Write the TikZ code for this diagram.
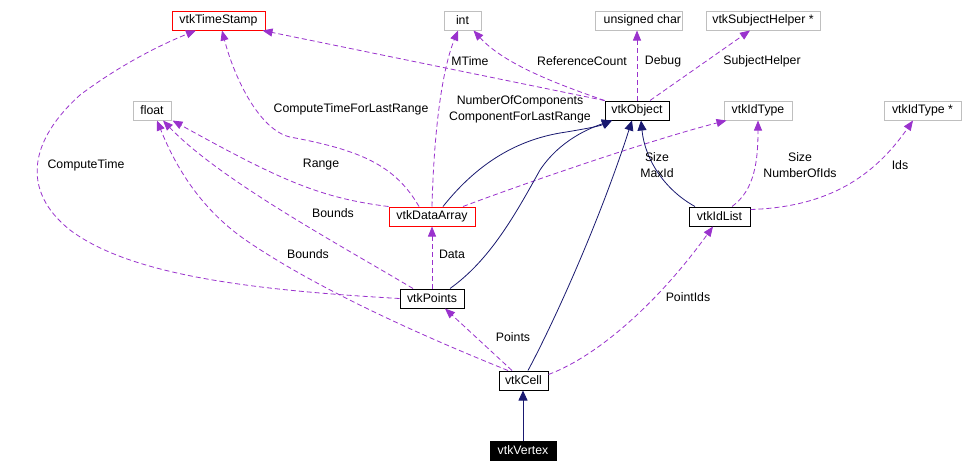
\documentclass[tikz,border=0pt]{standalone}
\usepackage{fontspec}
\setmainfont{Liberation Sans}
\usetikzlibrary{arrows.meta,calc}
\definecolor{depc}{HTML}{9A32CD}
\definecolor{inhc}{HTML}{191970}
\definecolor{grayb}{HTML}{BFBFBF}
\begin{document}
\begin{tikzpicture}[x=1pt,y=-1pt,
  box/.style={draw, rectangle, inner sep=0pt, minimum height=19pt, font=\fontsize{12.3}{14}\selectfont, line width=1pt},
  cls/.style={box, draw=black},
  ext/.style={box, draw=grayb},
  redb/.style={box, draw=red},
  lbl/.style={font=\fontsize{12.3}{16}\selectfont, inner sep=0pt, align=center},
  dep/.style={draw=depc, dash pattern=on 5pt off 3pt, line width=0.8pt, -{Triangle[length=10pt,width=8pt]}},
  inh/.style={draw=inhc, line width=0.8pt, -{Triangle[length=10pt,width=9pt]}}]
\fill[white] (0,0) rectangle (969,472);
\useasboundingbox (0,0) rectangle (969,472);

% nodes
\node[redb, minimum width=93pt] (ts) at (218.5,20.5) {vtkTimeStamp};
\node[ext, minimum width=37pt] (int) at (462.5,20.5) {int};
\node[ext, minimum width=87pt] (uc) at (638.5,20.5) {};
\node[lbl, anchor=west, font=\fontsize{12.3}{14}\selectfont] (uctext) at (603.5,20.5) {unsigned char};
\node[ext, minimum width=114pt] (sh) at (763,20.5) {vtkSubjectHelper *};
\node[ext, minimum width=38pt] (fl) at (152,110.5) {float};
\node[cls, minimum width=64pt] (obj) at (637,110.5) {vtkObject};
\node[ext, minimum width=68pt] (idt) at (758,110.5) {vtkIdType};
\node[ext, minimum width=77pt] (idtp) at (922.5,110.5) {vtkIdType *};
\node[redb, minimum width=86pt] (da) at (432,216.5) {vtkDataArray};
\node[cls, minimum width=61pt] (idl) at (719.5,216.5) {vtkIdList};
\node[cls, minimum width=64pt] (pts) at (432,298.5) {vtkPoints};
\node[cls, minimum width=49pt] (cell) at (523.5,380.5) {vtkCell};
\node[box, draw=black, fill=black, text=white, minimum width=66pt] (vtx) at (523,450.5) {vtkVertex};

% vtkObject members
\draw[dep] (obj.north west) -- ($(ts.south east)+(-3,0)$);
\draw[dep] (obj.north west) .. controls (560,85) and (505,65) .. ($(int.south east)+(-8,0)$);
\draw[dep] (obj.north) -- (obj.north |- uc.south);
\draw[dep] ($(obj.north)+(13,0)$) -- ($(sh.south)+(-13,0)$);

% vtkDataArray members
\draw[dep] ($(da.north)+(-13,0)$) .. controls (395,165) and (360,150) .. (290,137) .. controls (260,130) and (235,80) .. ($(ts.south)+(3.5,0)$);
\draw[dep] (da.north) .. controls (434,130) and (442,70) .. ($(int.south)+(-4.5,0)$);
\draw[dep] (da.north west) .. controls (320,198) and (280,180) .. ($(fl.south east)+(1,0)$);
\draw[dep] ($(da.north)+(31,0)$) .. controls (520,185) and (650,140) .. ($(idt.south west)+(3,0)$);
\draw[inh] ($(da.north)+(11,0)$) .. controls (480,160) and (520,140) .. (560,133) .. controls (585,129) and (600,126) .. ($(obj.south)+(-25,0)$);

% vtkIdList
\draw[inh] ($(idl.north)+(-24.5,0)$) .. controls (665,190) and (645,160) .. ($(obj.south)+(4,0)$);
\draw[dep] ($(idl.north)+(12.5,0)$) .. controls (755,190) and (758,160) .. (idt.south);
\draw[dep] ($(idl.east)+(0,-7)$) .. controls (830,207) and (875,175) .. ($(idtp.south)+(-9.5,0)$);

% vtkPoints
\draw[dep] (pts.north) -- (da.south);
\draw[inh] ($(pts.north)+(18,0)$) .. controls (490,260) and (515,215) .. (540,170) .. controls (560,140) and (590,128) .. ($(obj.south)+(-25,0)$);
\draw[dep] (pts.west) .. controls (250,290) and (130,275) .. (70,230) .. controls (20,190) and (30,140) .. (80,95) .. controls (120,65) and (160,45) .. ($(ts.south)+(-22.5,0)$);
\draw[dep] ($(pts.north)+(-19,0)$) .. controls (340,245) and (220,180) .. ($(fl.south)+(11,0)$);

% vtkCell
\draw[dep] ($(cell.north)+(-15.5,0)$) .. controls (420,335) and (320,290) .. (250,243) .. controls (200,210) and (175,165) .. ($(fl.south)+(5,0)$);
\draw[dep] ($(cell.north)+(-11.5,0)$) -- ($(pts.south)+(13,0)$);
\draw[inh] ($(cell.north)+(4.5,0)$) .. controls (555,320) and (600,220) .. ($(obj.south)+(-5,0)$);
\draw[dep] ($(cell.east)+(0,-6)$) .. controls (600,355) and (660,300) .. ($(idl.south)+(-6.5,0)$);

% vtkVertex
\draw[inh] (vtx.north) -- (vtx.north |- cell.south);

% labels
\node[lbl] (l1) at (470,61) {MTime};
\node[lbl] (l2) at (582,61) {ReferenceCount};
\node[lbl] (l3) at (663,61) {Debug};
\node[lbl] (l4) at (762,61) {SubjectHelper};
\node[lbl] (l5) at (520,109) {NumberOfComponents\\ComponentForLastRange};
\node[lbl] (l6) at (351,109) {ComputeTimeForLastRange};
\node[lbl] (l7) at (86,165) {ComputeTime};
\node[lbl] (l8) at (321,165) {Range};
\node[lbl] (l9) at (333,213) {Bounds};
\node[lbl] (l10) at (308,254) {Bounds};
\node[lbl] (l11) at (452,254) {Data};
\node[lbl] (l12) at (513,337) {Points};
\node[lbl] (l13) at (688,297) {PointIds};
\node[lbl] (l14) at (657,165) {Size\\MaxId};
\node[lbl] (l15) at (800,165) {Size\\NumberOfIds};
\node[lbl] (l16) at (900,165) {Ids};
\end{tikzpicture}
\end{document}
